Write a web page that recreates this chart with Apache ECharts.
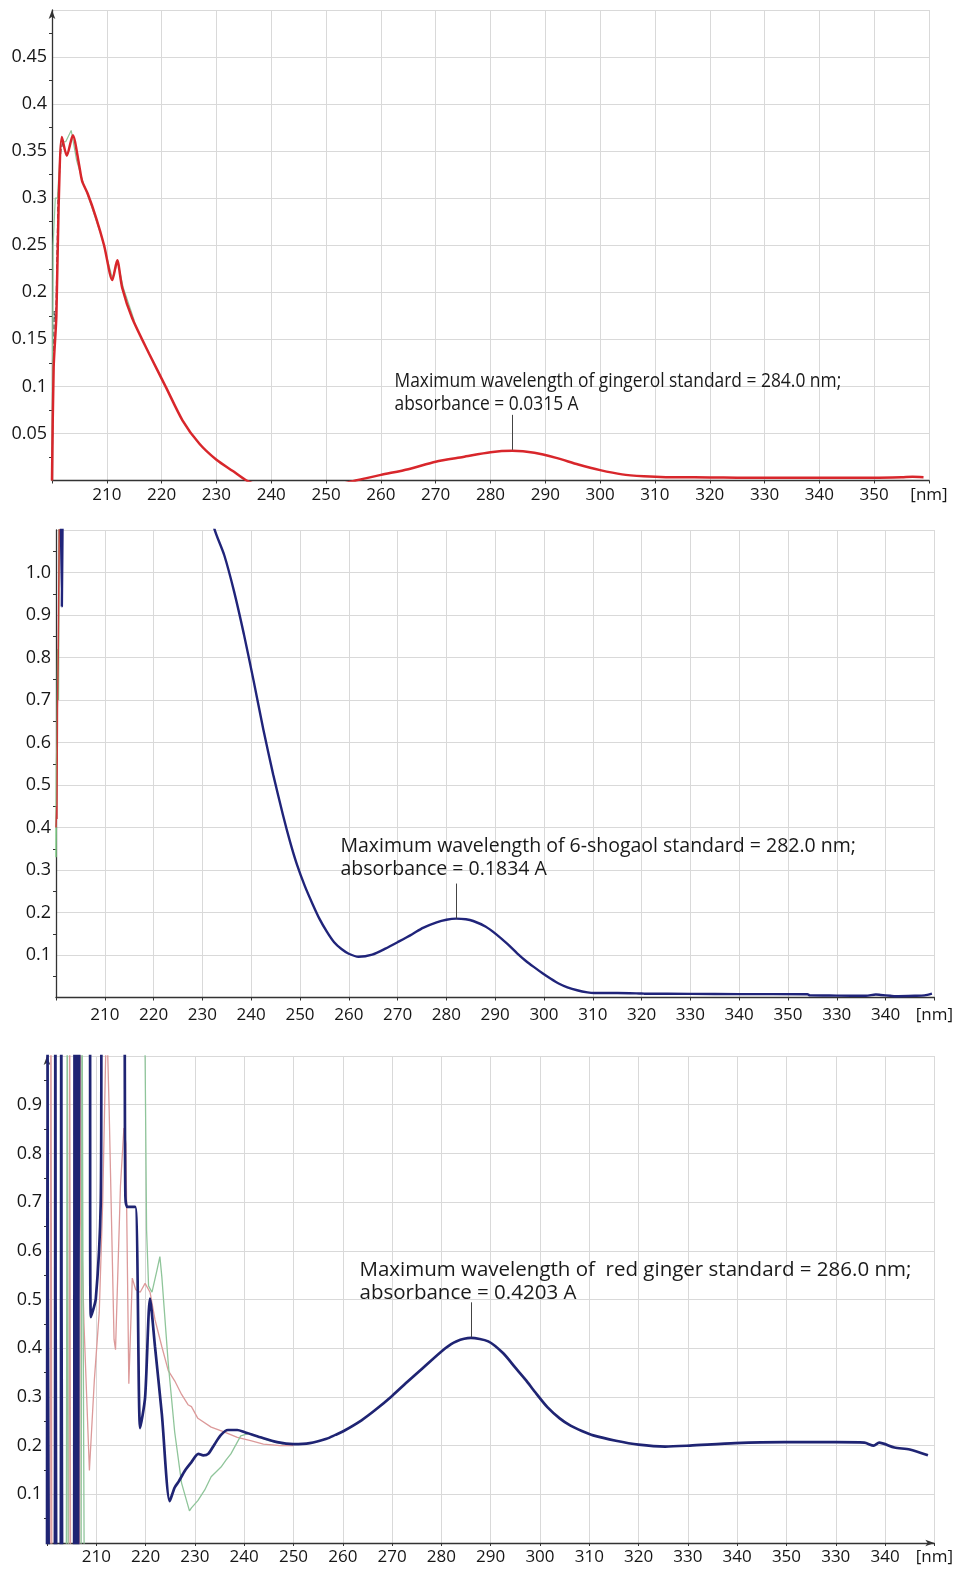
<!DOCTYPE html>
<html>
<head>
<meta charset="utf-8">
<script src="https://cdn.jsdelivr.net/npm/echarts@6/dist/echarts.min.js"></script>
<style>
html,body{margin:0;padding:0;background:#fff;}
#chart{width:956px;height:1574px;}
</style>
</head>
<body>
<div id="chart"></div>
<script>
// ---------- tick labels ----------
const topXLabels = ['', '210','220','230','240','250','260','270','280','290','300','310','320','330','340','350','[nm]'];
const midXLabels = ['', '210','220','230','240','250','260','270','280','290','300','310','320','330','340','350','330','340','[nm]'];
const botXLabels = ['', '210','220','230','240','250','260','270','280','290','300','310','320','330','340','350','330','340','[nm]'];
const topYLabels = ['', '0.05','0.1','0.15','0.2','0.25','0.3','0.35','0.4','0.45',''];
const midYLabels = ['', '0.1','0.2','0.3','0.4','0.5','0.6','0.7','0.8','0.9','1.0',''];
const botYLabels = ['', '0.1','0.2','0.3','0.4','0.5','0.6','0.7','0.8','0.9',''];

// ---------- annotations ----------
const annotationTexts = [
  ['Maximum wavelength of gingerol standard = 284.0 nm;', 'absorbance = 0.0315 A'],
  ['Maximum wavelength of 6-shogaol standard = 282.0 nm;', 'absorbance = 0.1834 A'],
  ['Maximum wavelength of  red ginger standard = 286.0 nm;', 'absorbance = 0.4203 A']
];
const peakNm = [284.0, 282.0, 286.0];
const peakAbs = [0.0315, 0.1834, 0.4203];

// ---------- panel 1: gingerol standard ----------
const gingerolRed = [[200.0,0.0],[200.3,0.12],[200.8,0.175],[201.2,0.29],[201.8,0.365],[202.7,0.345],[203.8,0.367],[204.9,0.337],[205.5,0.318],[206.5,0.305],[208.0,0.28],[209.5,0.25],[211.0,0.213],[211.9,0.234],[212.8,0.205],[214.6,0.173],[217.7,0.135],[220.8,0.099],[223.8,0.064],[226.9,0.039],[230.0,0.022],[233.0,0.01],[235.5,0.0],[240,-0.01],[245,-0.012],[250,-0.008],[255.4,0.0],[260,0.006],[265,0.012],[270,0.02],[275,0.025],[280,0.030],[284,0.0315],[288,0.0295],[292,0.024],[296,0.017],[300,0.011],[304,0.0065],[308,0.0045],[312,0.0035],[320,0.0033],[325,0.003],[340,0.003],[350,0.003],[355,0.0035],[357,0.004],[359,0.0035]];
const gingerolGreen = [[200.0,0.0],[200.2,0.25],[200.6,0.30],[201.0,0.30],[201.6,0.36],[202.5,0.36],[203.5,0.372],[204.5,0.34],[205.5,0.32],[207,0.295],[209,0.26],[211,0.215],[212,0.232],[213,0.205],[215,0.17]];
const gingerolDark = [[200.0,0.0],[200.4,0.18],[200.7,0.17],[201.1,0.30],[201.6,0.35],[202.0,0.36]];

// ---------- panel 2: 6-shogaol standard ----------
const shogaolNavy = [[200.9,1.25],[201.2,0.92],[201.4,1.25],['-','-'],[232.0,1.15],[232.4,1.105],[234.5,1.04],[236.5,0.955],[238.5,0.855],[240.5,0.745],[242.5,0.63],[244.5,0.525],[246.5,0.43],[248,0.365],[249.4,0.312],[251,0.262],[252.5,0.222],[254,0.185],[255.5,0.155],[257,0.13],[258.5,0.114],[260,0.103],[262,0.096],[264.8,0.101],[267.5,0.115],[270.3,0.132],[273,0.149],[275.2,0.164],[278,0.177],[280,0.183],[282,0.1855],[284,0.184],[285.5,0.18],[288,0.167],[290.3,0.148],[292.5,0.126],[294.5,0.104],[296.3,0.086],[297.9,0.072],[299.7,0.057],[301.4,0.044],[303,0.033],[304.8,0.024],[306.8,0.017],[308.9,0.012],[310.3,0.0105],[315,0.0105],[319.5,0.0095],[320.5,0.009],[330,0.0085],[340,0.008],[354,0.0075],[354.5,0.005],[360,0.0045],[366,0.004],[368,0.007],[369,0.006],[371,0.004],[372,0.003],[376,0.004],[378,0.005],[379.5,0.009]];
const shogaolRed = [[200.0,0.40],[200.15,0.45],[200.2,0.42],[200.3,0.68],[200.45,0.80],[200.6,1.0],[200.7,1.2]];
const shogaolGreen = [[200.0,0.33],[200.1,0.55],[200.2,0.60],[200.35,0.82],[200.5,0.70],[200.6,1.0],[200.7,1.2]];

// ---------- panel 3: red ginger ----------
const redGingerNavy = [[200.0,-0.2],[200.1,1.2],[200.4,-0.2],[201.5,-0.2],[201.7,1.2],[201.9,-0.2],[202.7,-0.2],[202.9,1.2],[203.1,-0.2],[205.4,-0.2],[205.6,1.2],[205.8,-0.2],[206.1,1.2],[206.3,-0.2],[206.6,1.2],[208.6,1.2],[208.9,0.464],[209.9,0.502],[210.9,0.698],[211.2,1.2],[215.5,1.2],[215.9,0.712],[216.3,0.69],[217.9,0.69],[218.9,0.236],[219.9,0.299],[220.9,0.502],[221.9,0.404],[223.3,0.264],[224.9,0.086],[225.9,0.114],[226.7,0.126],[228,0.149],[229.3,0.166],[230.7,0.183],[231.7,0.18],[232.7,0.183],[234,0.203],[235.3,0.222],[236.7,0.232],[238.6,0.232],[240,0.228],[243.3,0.217],[246.7,0.207],[250,0.203],[253.3,0.205],[256.7,0.214],[258.5,0.222],[260,0.229],[263.8,0.252],[266.7,0.274],[270,0.302],[273,0.33],[276.2,0.359],[280.8,0.40],[283,0.414],[286,0.421],[289.5,0.414],[292.5,0.39],[295,0.36],[297.1,0.335],[299,0.31],[301.5,0.279],[304,0.256],[306.2,0.241],[308.5,0.23],[310.8,0.221],[315.4,0.21],[320,0.202],[325.4,0.198],[330.4,0.2],[339.6,0.205],[349.6,0.207],[360,0.207],[365.8,0.206],[367.7,0.2],[368.8,0.206],[371.9,0.196],[375,0.192],[378.7,0.18]];
const redGingerPink = [[200.0,-0.2],[200.6,-0.2],[200.8,1.2],[201.0,-0.2],[204.4,-0.2],[204.6,1.2],[204.8,-0.2],[206.6,-0.2],[206.8,1.2],[206.9,0.69],[207.5,0.45],[208.6,0.149],[209.6,0.334],[210.6,0.474],[211.3,0.70],[211.9,1.0],[212.2,1.05],[212.6,0.894],[213.6,0.418],[213.9,0.397],[214.9,0.733],[215.6,0.852],[216.0,0.82],[216.6,0.327],[217.3,0.544],[218.0,0.52],[218.9,0.515],[219.9,0.533],[220.9,0.515],[221.9,0.459],[223.3,0.403],[224.6,0.354],[225.9,0.333],[227.3,0.305],[228.6,0.284],[229.3,0.28],[230.6,0.256],[233.3,0.238],[235.9,0.228],[238.6,0.217],[241.3,0.21],[243.9,0.203],[247.3,0.2],[250,0.2]];
const redGingerGreen = [[200.0,-0.2],[203.9,-0.2],[204.1,1.2],[204.3,-0.2],[206.9,-0.2],[207.1,1.2],[207.3,0.56],[207.6,-0.2],['-','-'],[219.8,1.2],[219.9,1.0],[220.2,0.642],[220.6,0.528],[221.3,0.515],[222.3,0.56],[222.9,0.588],[223.3,0.546],[224.6,0.368],[225.9,0.228],[227.3,0.123],[228.9,0.066],[229.3,0.072],[230.6,0.087],[232,0.109],[233.3,0.136],[235.3,0.156],[236.3,0.17],[237.3,0.183],[239.3,0.22],[241,0.225],[245,0.21],[248,0.203]];

// ---------- layout ----------
const LABEL_FONT = 'Open Sans';
const gridColor = '#d9d9d9';
const axisColor = '#333';

function xAxisDef(idx, max, labels, arrow, margin) {
  return {
    type: 'value', gridIndex: idx, min: 200, max: max, interval: 10,
    axisLine: { show: true, onZero: false, lineStyle: { color: axisColor, width: 1.3 },
      symbol: arrow ? ['none','arrow'] : 'none', symbolSize: [5, 9] },
    axisTick: { show: true, length: 3, lineStyle: { color: axisColor } },
    axisLabel: { show: true, margin: margin, color: '#161616', fontFamily: LABEL_FONT, fontSize: 17,
      showMinLabel: true, showMaxLabel: true,
      formatter: v => labels[Math.round((v - 200) / 10)] || '' },
    splitLine: { show: true, lineStyle: { color: gridColor, width: 1 } }
  };
}
function yAxisDef(idx, max, interval, labels, arrow) {
  return {
    type: 'value', gridIndex: idx, min: 0, max: max, interval: interval,
    axisLine: { show: true, onZero: false, lineStyle: { color: axisColor, width: 1.3 },
      symbol: arrow ? ['none','arrow'] : 'none', symbolSize: [5, 9] },
    axisTick: { show: false },
    minorTick: { show: true, splitNumber: 2, length: 3, lineStyle: { color: axisColor } },
    axisLabel: { show: true, margin: 5, color: '#161616', fontFamily: LABEL_FONT, fontSize: 18,
      showMinLabel: true, showMaxLabel: true,
      formatter: v => labels[Math.round(v / interval)] || '' },
    splitLine: { show: true, lineStyle: { color: gridColor, width: 1 } }
  };
}
function lineSeries(idx, data, color, width, z, extra) {
  return Object.assign({
    type: 'line', xAxisIndex: idx, yAxisIndex: idx, data: data, showSymbol: false, symbol: 'none',
    clip: true, animation: false, z: z, lineStyle: { color: color, width: width }
  }, extra || {});
}
const smoothOpt = { smooth: 0.25 };

const chart = echarts.init(document.getElementById('chart'), null, { renderer: 'canvas' });
chart.setOption({
  animation: false,
  backgroundColor: '#fff',
  grid: [
    { left: 52, top: 10, width: 877, height: 470.5 },
    { left: 56, top: 530, width: 880, height: 467.5 },
    { left: 47, top: 1056, width: 900, height: 487 }
  ],
  xAxis: [
    xAxisDef(0, 360, topXLabels, false, 6),
    xAxisDef(1, 380, midXLabels, false, 9),
    xAxisDef(2, 380, botXLabels, true, 6)
  ],
  yAxis: [
    yAxisDef(0, 0.5, 0.05, topYLabels, true),
    yAxisDef(1, 1.1, 0.1, midYLabels, false),
    yAxisDef(2, 1.0, 0.1, botYLabels, true)
  ],
  series: [
    lineSeries(0, gingerolDark, '#444', 1.2, 2, { lineStyle: { color: '#444', width: 1.2, type: 'dashed' } }),
    lineSeries(0, gingerolGreen, '#8ec79a', 1.2, 3),
    lineSeries(0, gingerolRed, '#d8262b', 2.5, 4, smoothOpt),
    lineSeries(1, shogaolGreen, '#7fcf86', 1.5, 3),
    lineSeries(1, shogaolRed, '#c9383a', 1.5, 3),
    lineSeries(1, shogaolNavy, '#20247a', 2.4, 4, smoothOpt),
    lineSeries(2, redGingerPink, '#dc9a9a', 1.3, 3),
    lineSeries(2, redGingerGreen, '#8fc59a', 1.3, 3),
    lineSeries(2, redGingerNavy, '#1f2473', 2.7, 4, smoothOpt)
  ]
});

function buildAnnotations() {
  const els = [];
  const fontSizes = [20, 19.5, 20.5];
  const scaleXs = [0.87, 1, 1];
  const dx = [-118, -116, -112];
  const dy = [3, 0, 5];
  for (let i = 0; i < 3; i++) {
    const p = chart.convertToPixel({ xAxisIndex: i, yAxisIndex: i }, [peakNm[i], peakAbs[i]]);
    const x = Math.round(p[0]) + 0.5;
    const yBottom = p[1] - 1;
    const yTop = p[1] - 36;
    const font = fontSizes[i] + 'px "Open Sans", sans-serif';
    els.push({ type: 'line', shape: { x1: x, y1: yBottom, x2: x, y2: yTop }, style: { stroke: '#444', lineWidth: 1 }, z: 10 });
    els.push({ type: 'text', x: x + dx[i], y: yTop - 37 + dy[i], scaleX: scaleXs[i], z: 10,
      style: { text: annotationTexts[i][0], font: font, fill: '#1a1a1a', verticalAlign: 'middle', align: 'left' } });
    els.push({ type: 'text', x: x + dx[i], y: yTop - 14 + dy[i], scaleX: scaleXs[i], z: 10,
      style: { text: annotationTexts[i][1], font: font, fill: '#1a1a1a', verticalAlign: 'middle', align: 'left' } });
  }
  chart.setOption({ graphic: els });
}
buildAnnotations();
</script>
</body>
</html>
